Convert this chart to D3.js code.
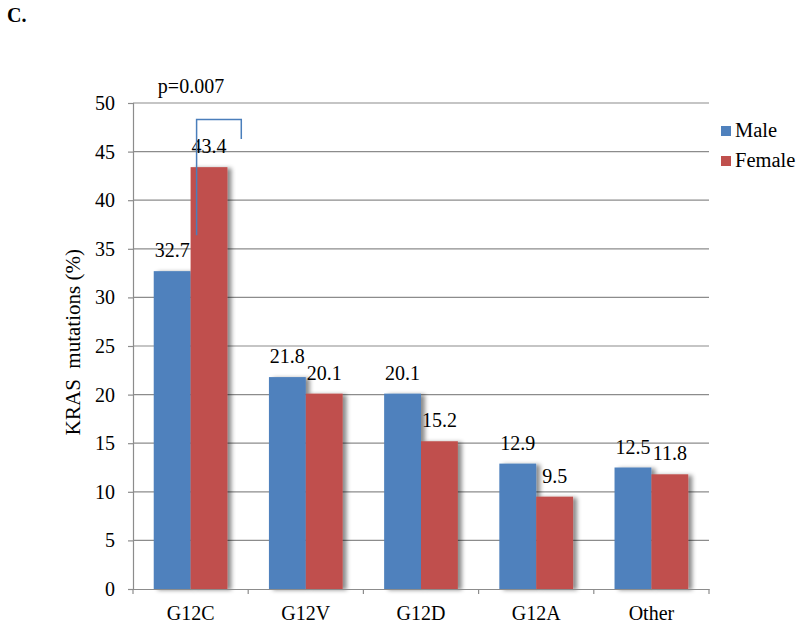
<!DOCTYPE html>
<html>
<head>
<meta charset="utf-8">
<script src="https://cdn.jsdelivr.net/npm/d3@7"></script>
<style>
  body { margin: 0; background: #fff; }
  text { font-family: "Liberation Serif", "Times New Roman", serif; fill: #000; }
</style>
</head>
<body>
<svg id="chart" width="800" height="626"></svg>
<script>
// data
const categories = ["G12C", "G12V", "G12D", "G12A", "Other"];
const maleValues = [32.7, 21.8, 20.1, 12.9, 12.5];
const femaleValues = [43.4, 20.1, 15.2, 9.5, 11.8];
const seriesNames = ["Male", "Female"];
const yTicks = [0, 5, 10, 15, 20, 25, 30, 35, 40, 45, 50];

const colors = {Male: "#4f81bd", Female: "#c0504d"};
const margin = {left: 133, right: 91, top: 103, bottom: 37};
const svg = d3.select("#chart");
const W = 800, H = 626;
const fs = 20;

const defs = svg.append("defs");
const f = defs.append("filter").attr("id", "shadow")
  .attr("x", "-20%").attr("y", "-10%").attr("width", "150%").attr("height", "130%");
f.append("feDropShadow").attr("dx", 4).attr("dy", 1).attr("stdDeviation", 2.2)
  .attr("flood-color", "#000").attr("flood-opacity", 0.45);

let x = d3.scaleBand()
  .domain(categories)
  .range([margin.left, W - margin.right]);
let xInner = d3.scaleBand()
  .domain(seriesNames)
  .range([0, x.bandwidth() * 0.64]);
let y = d3.scaleLinear()
  .domain([0, 50])
  .range([H - margin.bottom, margin.top]);

// gridlines
svg.append("g").selectAll("line")
  .data(yTicks.filter(d => d > 0))
  .enter().append("line")
  .attr("x1", margin.left).attr("x2", W - margin.right)
  .attr("y1", d => y(d)).attr("y2", d => y(d))
  .attr("stroke", "#8c8c8c").attr("stroke-width", 1.2);

// y axis
let yAxis = d3.axisLeft(y).tickValues(yTicks).tickSize(5).tickPadding(13);
svg.append("g")
  .attr("transform", "translate(" + margin.left + ",0)")
  .call(yAxis)
  .call(g => {
    g.select(".domain").attr("stroke", "#8c8c8c").attr("stroke-width", 1.2);
    g.selectAll(".tick line").attr("stroke", "#8c8c8c").attr("stroke-width", 1.2);
    g.selectAll("text").attr("font-size", fs)
      .attr("font-family", "Liberation Serif").attr("fill", "#000");
  });

// bars
const rows = [];
categories.forEach((c, i) => {
  rows.push({cat: c, series: "Male", value: maleValues[i]});
  rows.push({cat: c, series: "Female", value: femaleValues[i]});
});
const groupOffset = (x.bandwidth() - x.bandwidth() * 0.64) / 2;

svg.append("g").selectAll("rect")
  .data(rows)
  .enter().append("rect")
  .attr("x", d => x(d.cat) + groupOffset + xInner(d.series))
  .attr("y", d => y(d.value))
  .attr("width", xInner.bandwidth())
  .attr("height", d => y(0) - y(d.value))
  .attr("fill", d => colors[d.series])
  .attr("filter", "url(#shadow)");

// x axis
let xAxis = d3.axisBottom(x).tickSize(0).tickPadding(17);
svg.append("g")
  .attr("transform", "translate(0," + y(0) + ")")
  .call(xAxis)
  .call(g => {
    g.select(".domain").attr("stroke", "#8c8c8c").attr("stroke-width", 1.2);
    g.selectAll("text").attr("font-size", fs)
      .attr("font-family", "Liberation Serif").attr("fill", "#000");
  });
// tick marks between categories
const bounds = categories.map(c => x(c)).concat([x(categories[categories.length - 1]) + x.bandwidth()]);
svg.append("g").selectAll("line")
  .data(bounds)
  .enter().append("line")
  .attr("x1", d => d).attr("x2", d => d)
  .attr("y1", y(0)).attr("y2", y(0) + 5)
  .attr("stroke", "#8c8c8c").attr("stroke-width", 1.2);

// value labels
svg.append("g").selectAll("text")
  .data(rows)
  .enter().append("text")
  .attr("x", d => x(d.cat) + groupOffset + xInner(d.series) + xInner.bandwidth() / 2)
  .attr("y", d => y(d.value) - 14)
  .attr("text-anchor", "middle")
  .attr("font-size", fs)
  .text(d => d.value.toFixed(1));

// significance bracket
const xm = x("G12C") + groupOffset + xInner("Female") + 6;
const xr = x("G12C") + x.bandwidth() * 0.94;
svg.append("path")
  .attr("d", "M" + xm + "," + y(36.4) + "V" + y(48.3) + "H" + xr + "V" + y(46.3))
  .attr("fill", "none").attr("stroke", "#4a7ebb").attr("stroke-width", 1.5);
svg.append("text")
  .attr("x", 191).attr("y", 93)
  .attr("text-anchor", "middle").attr("font-size", fs)
  .text("p=0.007");

// y axis title
svg.append("text")
  .attr("transform", "translate(80," + y(25.4) + ") rotate(-90)")
  .attr("text-anchor", "middle").attr("font-size", 21)
  .attr("xml:space", "preserve")
  .style("white-space", "pre")
  .text("KRAS  mutations (%)");

// legend
const legend = svg.append("g").selectAll("g")
  .data(seriesNames)
  .enter().append("g")
  .attr("transform", (d, i) => "translate(721," + (126 + i * 30) + ")");
legend.append("rect").attr("width", 10).attr("height", 10)
  .attr("fill", d => colors[d]);
legend.append("text").attr("x", 14).attr("y", 11)
  .attr("font-size", 20.5).text(d => d);

// panel letter
svg.append("text")
  .attr("x", 7).attr("y", 22)
  .attr("font-size", 20).attr("font-weight", "bold")
  .text("C.");
</script>
</body>
</html>
